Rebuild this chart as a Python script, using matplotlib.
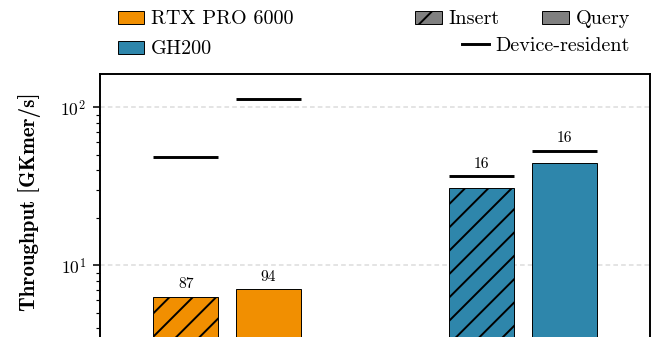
import numpy as np
import matplotlib
matplotlib.use("Agg")
import matplotlib.pyplot as plt
from matplotlib.patches import Patch
from matplotlib.lines import Line2D

plt.rcParams['font.family'] = ['cmr10', 'DejaVu Serif']
plt.rcParams['mathtext.fontset'] = 'cm'
plt.rcParams['axes.formatter.use_mathtext'] = True
plt.rcParams['axes.unicode_minus'] = False
plt.rcParams['hatch.linewidth'] = 1.0

# data
gpus = ['RTX PRO 6000', 'GH200']
colors = ['#F18F01', '#2E86AB']
insert_tp = [6.3, 30.7]
query_tp = [7.05, 44.2]
insert_resident = [48.5, 36.6]
query_resident = [112.4, 53.1]
insert_labels = ['87', '16']
query_labels = ['94', '16']

DPI = 140
fig = plt.figure(figsize=(660 / DPI, 337 / DPI), dpi=DPI)
# the plot runs down to the lower edge of the figure
ax = fig.add_axes([100 / 660, 0.0, 550 / 660, 1 - 74 / 337])

x = np.arange(len(gpus))
w = 0.22
off = 0.14

def draw(xs, vals, resident, labels, hatch):
    ax.bar(xs, vals, w, color=colors, edgecolor='black', linewidth=0.5,
           hatch=hatch, zorder=3)
    ax.hlines(resident, xs - w / 2, xs + w / 2, colors='black',
              linewidth=1.5, zorder=4)
    for xi, v, r, lab in zip(xs, vals, resident, labels):
        # put the label over the resident line when it sits close to the bar
        base = r if r / v < 1.5 else v
        ax.annotate(lab, (xi, base), xytext=(0, 6.4), textcoords='offset points',
                    ha='center', va='center', fontsize=8, zorder=5)

draw(x - off, insert_tp, insert_resident, insert_labels, '//')
draw(x + off, query_tp, query_resident, query_labels, None)

ax.set_yscale('log')
ax.set_ylim(3.52, 162.5)
ax.set_xlim(-0.43, 1.43)
ax.set_xticks([])
ax.spines['bottom'].set_visible(False)
ax.grid(axis='y', which='major', linestyle=(0, (3, 2)), color='#dddddd',
        linewidth=0.8, zorder=0)
ax.tick_params(axis='y', which='major', length=3.6, width=0.8, labelsize=9)
ax.tick_params(axis='y', which='minor', length=2, width=0.6)
for s in ax.spines.values():
    s.set_linewidth(1.0)
ax.set_ylabel('Throughput [GKmer/s]', fontfamily='cmb10', fontsize=10.8)
ax.yaxis.set_label_coords(-0.108, (337 - 202) / (337 - 74))

# legends
leg_kw = dict(frameon=False, fontsize=10.4, borderpad=0, borderaxespad=0,
              handlelength=1.3, handleheight=0.65, handletextpad=0.35)
gpu_handles = [Patch(facecolor=c, edgecolor='black', linewidth=0.5) for c in colors]
fig.legend(gpu_handles, gpus, loc='upper left', bbox_to_anchor=(118 / 660, 0.969),
           labelspacing=0.6, **leg_kw)

op_handles = [Patch(facecolor='#808080', edgecolor='black', linewidth=0.5, hatch='//'),
              Patch(facecolor='#808080', edgecolor='black', linewidth=0.5)]
fig.legend(op_handles, ['Insert', 'Query'], loc='upper right', ncol=2,
           bbox_to_anchor=(630 / 660, 0.969), columnspacing=2.1, **leg_kw)
fig.legend([Line2D([], [], color='black', linewidth=1.5)], ['Device-resident'],
           loc='upper right', bbox_to_anchor=(630 / 660, 0.89), **leg_kw)

fig.savefig('out.png', dpi=DPI)
